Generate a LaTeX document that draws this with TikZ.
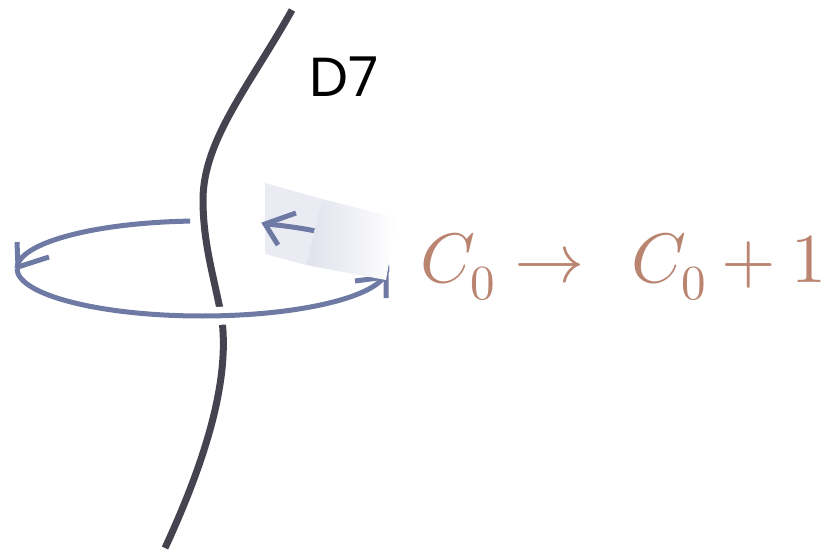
\documentclass[tikz,border=0pt]{standalone}
\usepackage{fontspec}
\usepackage{unicode-math}
\newfontfamily\dfont{Poppins}
\definecolor{curvecol}{RGB}{69,67,79}
\definecolor{loopcol}{RGB}{110,122,163}
\definecolor{textcol}{RGB}{185,132,112}
\definecolor{patchcol}{RGB}{235,236,243}
\definecolor{shadecol}{RGB}{224,226,236}
\begin{document}
\begin{tikzpicture}[x=1pt,y=-1pt,
  loopline/.style={loopcol, line width=5pt},
  headline/.style={loopcol, line width=5pt, line join=miter},
  strand/.style={curvecol, line width=7pt}]
\useasboundingbox (0,0) rectangle (829,553);
% light patch behind the loop
\fill[patchcol] (265,183) -- (322,199) -- (306,265) -- (265,254) -- cycle;
% D7 strand
\coordinate (s0) at (292,10);
\coordinate (s1) at (203,200);
\coordinate (s2) at (222,320);
\coordinate (s3) at (165,548);
\draw[strand] (s0) .. controls (250,85) and (203,140) .. (s1)
  .. controls (203,245) and (215,280) .. (s2)
  .. controls (228,370) and (215,440) .. (s3);
% gap in strand where loop passes in front
\draw[white, line width=18pt] (202,268.5) ++(-271:185 and 47.5) arc[start angle=-271, end angle=-281, x radius=185, y radius=47.5];
% loop arcs
\draw[loopline] (202,268.5) ++(-93.7:185 and 47.5) arc[start angle=-93.7, end angle=-180, x radius=185, y radius=47.5];
\draw[loopline] (202,268.5) ++(-180:185 and 47.5) arc[start angle=-180, end angle=-348, x radius=185, y radius=47.5];
\draw[loopline] (202,268.5) ++(-352:185 and 47.5) arc[start angle=-352, end angle=-430, x radius=185, y radius=47.5];
% arrow heads
\draw[headline] (17,242) -- (18,267) -- (49,257);
\draw[headline] (296,213) -- (265,224) -- (278,245);
\draw[headline] (355,281) -- (386,277) -- (386,298);
% fading square
\shade[left color=shadecol, right color=white] (322,199) -- (397,218) -- (386,280) -- (306,265) -- cycle;
% labels
\node[anchor=base west, inner sep=0, font=\dfont\fontsize{55}{60}\selectfont] (d7) at (309,97) {D7};
\node[anchor=base west, inner sep=0, text=textcol, font=\fontsize{70}{80}\selectfont] (eq) at (420,282) {$C_0 \to\mkern7mu C_0+1$};
\end{tikzpicture}
\end{document}
